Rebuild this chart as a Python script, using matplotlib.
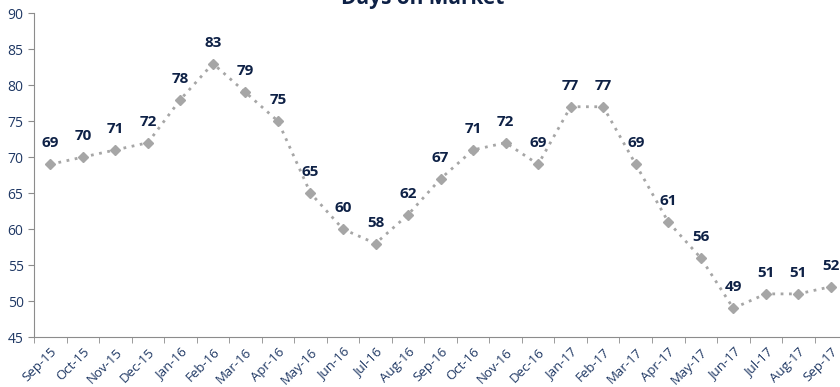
import numpy as np
import matplotlib.pyplot as plt

months = ["Sep-15", "Oct-15", "Nov-15", "Dec-15", "Jan-16", "Feb-16", "Mar-16", "Apr-16",
          "May-16", "Jun-16", "Jul-16", "Aug-16", "Sep-16", "Oct-16", "Nov-16", "Dec-16",
          "Jan-17", "Feb-17", "Mar-17", "Apr-17", "May-17", "Jun-17", "Jul-17", "Aug-17", "Sep-17"]
days = [69, 70, 71, 72, 78, 83, 79, 75, 65, 60, 58, 62, 67, 71, 72, 69,
        77, 77, 69, 61, 56, 49, 51, 51, 52]

navy = "#1F3864"
dark = "#0E2146"
grey = "#A6A6A6"

plt.rcParams['font.family'] = ['Open Sans', 'DejaVu Sans']

fig = plt.figure(figsize=(8.4, 3.87), dpi=100)
ax = fig.add_axes([0.0405, 0.129, 0.968, 0.837])

x = np.arange(len(months))
ax.plot(x, days, color=grey, linestyle=(0, (1, 2)), linewidth=2,
        marker='D', markersize=5.5, markerfacecolor=grey, markeredgecolor=grey)

for xi, v in zip(x, days):
    ax.annotate(str(v), (xi, v), xytext=(0, 10), textcoords='offset points',
                ha='center', va='bottom', fontsize=11, fontweight='bold', color=dark)

ax.set_xlim(-0.5, len(months) - 0.5)
ax.set_ylim(45, 90)
ax.set_yticks(range(45, 91, 5))
ax.set_xticks(x)
ax.set_xticklabels(months, rotation=45, ha='right', rotation_mode='anchor')
ax.set_xticks(np.arange(-0.5, len(months), 1), minor=True)
ax.tick_params(axis='x', which='major', length=0, pad=6, labelsize=9.5, labelcolor=navy)
ax.tick_params(axis='x', which='minor', length=4, color='#8C8C8C')
ax.tick_params(axis='y', length=4, color='#8C8C8C', labelsize=10, labelcolor=navy)

for s in ['top', 'right']:
    ax.spines[s].set_visible(False)
for s in ['left', 'bottom']:
    ax.spines[s].set_color('#8C8C8C')

fig.text(0.503, 1.004, "Days on Market", ha='center', va='center', fontsize=15,
         fontweight='bold', color=dark)

fig.savefig("out.png", dpi=100)
